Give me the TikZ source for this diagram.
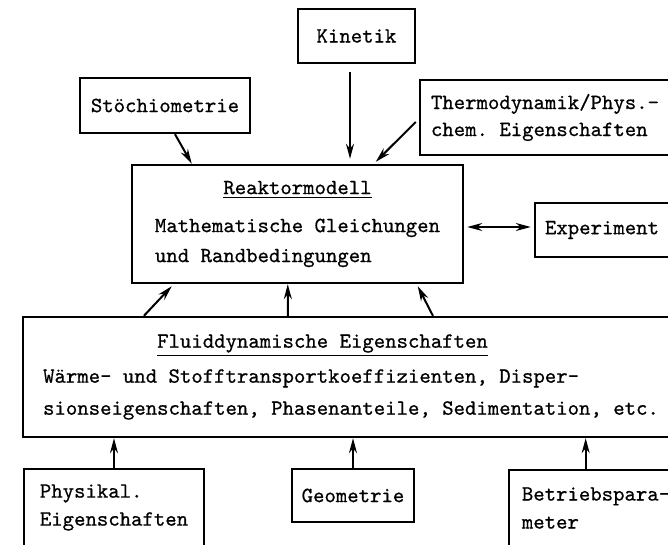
\documentclass[tikz,border=0pt]{standalone}
\usepackage{fontspec}
\newfontfamily\typewriter{Latin Modern Mono}[FakeBold=0.7]
\usetikzlibrary{arrows.meta,
  calc,
  positioning
}

\begin{document}
\frenchspacing
\begin{tikzpicture}[x=0.5pt, y=-0.5pt,
  modbox/.style={draw, line width=1.2pt, align=left, inner ysep=0pt,
    font=\typewriter\fontsize{10.86}{14}\selectfont},
  flow/.style={->, >={Stealth[length=7.5pt, width=4pt]}, line width=1pt}]
  \useasboundingbox (0, 0) rectangle (668, 545);
  \clip (0, 0) rectangle (668, 545);

  % top row
  \node[modbox, minimum width=58.5pt, minimum height=27pt] (Kinetik) at (356.5, 36) {Kinetik};
  \node[modbox, minimum width=85pt, minimum height=27.5pt] (Stoech) at (165, 105.5) {Stöchiometrie};
  \node[modbox, inner xsep=5.5pt, minimum height=37.5pt,
    font=\typewriter\fontsize{10.86}{13.5}\selectfont] (Thermo) at (545, 117.5)
  {Thermodynamik/Phys.-\\chem. Eigenschaften};

  % model
  \node[modbox, inner xsep=11.5pt, minimum height=59pt,
    font=\typewriter\fontsize{10.86}{15}\selectfont] (Reaktor) at (297.5, 224)
  {\phantom{xxxxxx}\underline{Reaktormodell}\\[4pt]
    Mathematische Gleichungen\\und Randbedingungen};
  \node[modbox, inner xsep=5pt, minimum height=27pt] (Experiment) at (602, 230) {Experiment};

  \node[modbox, inner xsep=10pt, minimum height=60pt,
    font=\typewriter\fontsize{10.86}{16}\selectfont] (Fluid) at (351, 377)
  {\phantom{xxxxxxxxxx}\underline{Fluiddynamische Eigenschaften}\\[1.5pt]
    Wärme- und Stofftransportkoeffizienten, Disper-\\
    sionseigenschaften, Phasenanteile, Sedimentation, etc.};

  % bottom row
  \node[modbox, inner xsep=8pt, minimum height=38.5pt] (Physikal) at (114, 507.5)
  {Physikal.\\Eigenschaften};
  \node[modbox, minimum width=61pt, minimum height=26.5pt] (Geometrie) at (353, 495.5) {Geometrie};
  \node[modbox, inner xsep=6.5pt, minimum height=38pt] (Betrieb) at (596, 508)
  {Betriebspara-\\meter};

  % arrows into the model
  \draw[flow] ($(Stoech.south) + (10, 0)$) -- ($(Reaktor.north west) + (61, 0)$);
  \draw[flow, shorten <=4pt, shorten >=2.5pt]
  ($(Kinetik.south) + (-6.5, 0)$) -- ($(Reaktor.north) + (52.5, 0)$);
  \draw[flow] ($(Thermo.west) + (-3, 4.5)$) -- ($(Reaktor.north west) + (245, -2)$);
  \draw[flow, <->]
  ($(Reaktor.east) + (3, 3)$) -- ($(Experiment.west) + (-3, -3)$);

  \draw[flow] ($(Fluid.north west) + (122, 0)$) -- ($(Reaktor.south west) + (41, 2)$);
  \draw[flow] ($(Fluid.north west) + (266, 0)$) -- ($(Reaktor.south west) + (157, 0)$);
  \draw[flow] ($(Fluid.north west) + (411, 0)$) -- ($(Reaktor.south west) + (287, 2)$);

  % arrows into the fluid box
  \draw[flow] (Physikal.north) -- (Physikal.north |- Fluid.south);
  \draw[flow] (Geometrie.north) -- (Geometrie.north |- Fluid.south);
  \draw[flow] ($(Betrieb.north west) + (78, 0)$) -- ($(Betrieb.north west |- Fluid.south) + (78, 0)$);
\end{tikzpicture}
\end{document}
